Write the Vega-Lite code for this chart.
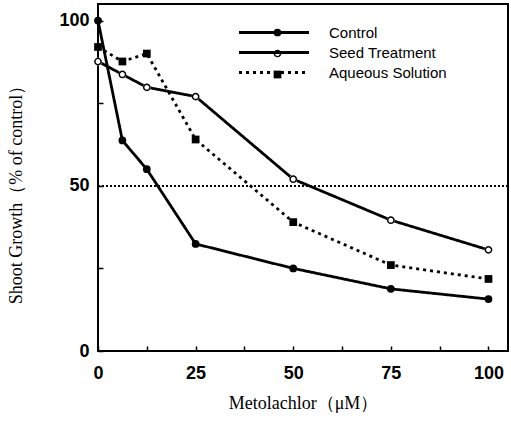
{
  "$schema": "https://vega.github.io/schema/vega-lite/v6.json",
  "width": 410,
  "height": 347,
  "autosize": {"type": "none"},
  "padding": {"left": 98, "top": 4, "right": 3, "bottom": 70},
  "background": "white",
  "config": {
    "view": {"stroke": "black", "strokeWidth": 2},
    "axis": {
      "domain": false,
      "grid": false,
      "labelFlush": false,
      "labelColor": "black",
      "labelFont": "Liberation Sans",
      "labelFontWeight": "bold",
      "labelFontSize": 18,
      "titleColor": "black",
      "titleFont": "Liberation Serif",
      "titleFontWeight": "normal",
      "titleFontSize": 18
    }
  },
  "data": {
    "values": [
      {"x": 0, "y": 100, "series": "Control"},
      {"x": 6.25, "y": 63.7, "series": "Control"},
      {"x": 12.5, "y": 55, "series": "Control"},
      {"x": 25, "y": 32.4, "series": "Control"},
      {"x": 50, "y": 25, "series": "Control"},
      {"x": 75, "y": 18.8, "series": "Control"},
      {"x": 100, "y": 15.7, "series": "Control"},
      {"x": 0, "y": 87.6, "series": "Seed Treatment"},
      {"x": 6.25, "y": 83.7, "series": "Seed Treatment"},
      {"x": 12.5, "y": 79.8, "series": "Seed Treatment"},
      {"x": 25, "y": 77, "series": "Seed Treatment"},
      {"x": 50, "y": 52, "series": "Seed Treatment"},
      {"x": 75, "y": 39.6, "series": "Seed Treatment"},
      {"x": 100, "y": 30.6, "series": "Seed Treatment"},
      {"x": 0, "y": 92, "series": "Aqueous Solution"},
      {"x": 6.25, "y": 87.6, "series": "Aqueous Solution"},
      {"x": 12.5, "y": 90, "series": "Aqueous Solution"},
      {"x": 25, "y": 64, "series": "Aqueous Solution"},
      {"x": 50, "y": 39, "series": "Aqueous Solution"},
      {"x": 75, "y": 26, "series": "Aqueous Solution"},
      {"x": 100, "y": 21.8, "series": "Aqueous Solution"}
    ]
  },
  "layer": [
    {
      "mark": {"type": "rule", "strokeDash": [2, 2], "strokeWidth": 1, "color": "black"},
      "encoding": {"y": {"datum": 50, "type": "quantitative"}}
    },
    {
      "mark": {"type": "line", "color": "black", "strokeWidth": 2.8},
      "encoding": {
        "x": {
          "field": "x", "type": "quantitative",
          "scale": {"domain": [0, 105], "nice": false},
          "title": "Metolachlor（μM）",
          "axis": {
            "values": [0, 12.5, 25, 37.5, 50, 62.5, 75, 87.5, 100],
            "labelExpr": "datum.value % 25 === 0 ? datum.label : ''",
            "ticks": true,
            "tickColor": "black",
            "tickWidth": 1.5,
            "tickSize": 5,
            "offset": -5,
            "zindex": 2,
            "labelPadding": 13,
            "titlePadding": 12
          }
        },
        "y": {
          "field": "y", "type": "quantitative",
          "scale": {"domain": [0, 105], "nice": false},
          "title": "Shoot Growth（% of control）",
          "axis": {
            "values": [0, 25, 50, 75, 100],
            "labelExpr": "datum.value % 50 === 0 ? datum.label : ''",
            "ticks": true,
            "tickColor": "black",
            "tickWidth": 1.5,
            "tickSize": 5,
            "offset": -5,
            "zindex": 2,
            "labelPadding": 9,
            "titlePadding": 33,
            "titleY": 186
          }
        },
        "detail": {"field": "series"},
        "strokeDash": {
          "field": "series", "type": "nominal",
          "scale": {"domain": ["Control", "Seed Treatment", "Aqueous Solution"], "range": [[1, 0], [1, 0], [3, 4]]},
          "legend": {
            "title": null,
            "orient": "none",
            "legendX": 167.5,
            "legendY": 20,
            "padding": 0,
            "symbolType": "M-5,0H5",
            "symbolSize": 196,
            "symbolStrokeWidth": 2.8,
            "symbolStrokeColor": "black",
            "labelFont": "Liberation Sans",
            "labelFontSize": 15,
            "labelColor": "black",
            "labelOffset": 46.5,
            "rowPadding": 3
          }
        }
      }
    },
    {
      "transform": [{"filter": "datum.series === 'Seed Treatment'"}],
      "mark": {"type": "point", "shape": "circle", "filled": true, "fill": "white", "opacity": 1, "size": 60},
      "encoding": {
        "x": {"field": "x", "type": "quantitative"},
        "y": {"field": "y", "type": "quantitative"}
      }
    },
    {
      "mark": {"type": "point", "filled": true, "fill": "black", "opacity": 1, "size": 60},
      "encoding": {
        "x": {"field": "x", "type": "quantitative"},
        "y": {"field": "y", "type": "quantitative"},
        "shape": {
          "field": "series", "type": "nominal",
          "scale": {"range": ["square", "circle", "M1,0A1,1,0,1,1,-1,0A1,1,0,1,1,1,0ZM0.62,0A0.62,0.62,0,1,0,-0.62,0A0.62,0.62,0,1,0,0.62,0Z"]},
          "legend": {
            "title": null,
            "orient": "none",
            "legendX": 172,
            "legendY": 21,
            "padding": 0,
            "values": ["Control", "Seed Treatment", "Aqueous Solution"],
            "symbolStrokeColor": "black",
            "symbolStrokeWidth": 1.5,
            "symbolSize": 60,
            "symbolFillColor": "black",
            "labelFont": "Liberation Sans",
            "labelFontSize": 15,
            "labelOpacity": 0,
            "rowPadding": 5
          }
        }
      }
    }
  ]
}
